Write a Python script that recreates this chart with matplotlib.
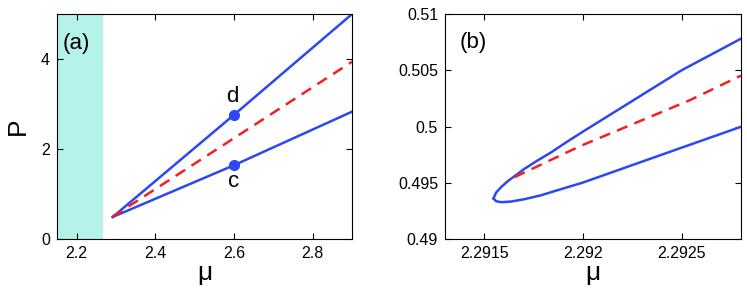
import matplotlib
matplotlib.use("Agg")
import matplotlib.pyplot as plt
from matplotlib.ticker import FuncFormatter

plt.rcParams['font.family'] = ['Liberation Sans', 'DejaVu Sans']

# panel (a): full branches
mu_up_a = [2.2916, 2.6, 2.9]
p_up_a = [0.49, 2.76, 5.0]
mu_lo_a = [2.2916, 2.6, 2.9]
p_lo_a = [0.49, 1.64, 2.83]
mu_red_a = [2.2917, 2.9]
p_red_a = [0.496, 3.94]
mu_pts = [2.6, 2.6]
p_pts = [2.76, 1.64]
pt_labels = ['d', 'c']
shade_range = [2.15, 2.267]

# panel (b): zoom near the fold
mu_up_b = [2.291546, 2.291559, 2.291585, 2.291619, 2.291653, 2.291703, 2.291771,
           2.291839, 2.291915, 2.292, 2.2925, 2.2928]
p_up_b = [0.49360, 0.49412, 0.49462, 0.49515, 0.49559, 0.49624, 0.49700,
          0.49771, 0.49860, 0.49955, 0.50500, 0.50780]
mu_lo_b = [2.291546, 2.291559, 2.291585, 2.291636, 2.291703, 2.291788, 2.29189,
           2.292, 2.2925, 2.2928]
p_lo_b = [0.49360, 0.49336, 0.49327, 0.49333, 0.49354, 0.49389, 0.49444,
          0.49502, 0.49812, 0.49997]
mu_red_b = [2.291653, 2.291983, 2.292543, 2.2928]
p_red_b = [0.4955, 0.49824, 0.50235, 0.50452]

blue = '#2d48f2'
red = '#f42020'
cyan = '#b4f2ea'

fig = plt.figure(figsize=(7.47, 2.96), dpi=100)
ax1 = fig.add_axes([0.0763, 0.1926, 0.395, 0.760])
ax2 = fig.add_axes([0.5957, 0.1926, 0.396, 0.760])

ax1.axvspan(shade_range[0], shade_range[1], color=cyan, lw=0)
ax1.plot(mu_up_a, p_up_a, color=blue, lw=1.8)
ax1.plot(mu_lo_a, p_lo_a, color=blue, lw=1.8)
ax1.plot(mu_red_a, p_red_a, color=red, lw=1.8, dashes=(4.5, 3))
ax1.plot(mu_pts, p_pts, 'o', color=blue, ms=7)
ax1.text(2.595, 3.16, pt_labels[0], fontsize=16, ha='center', va='center')
ax1.text(2.6, 1.27, pt_labels[1], fontsize=16, ha='center', va='center')
ax1.set_xlim(2.15, 2.9)
ax1.set_ylim(0, 5)
ax1.set_xticks([2.2, 2.4, 2.6, 2.8])
ax1.set_yticks([0, 2, 4])
ax1.set_xlabel('μ', fontsize=19, labelpad=0)
ax1.set_ylabel('P', fontsize=19, labelpad=8)
ax1.text(0.02, 0.87, '(a)', transform=ax1.transAxes, fontsize=16, va='center')

ax2.plot(mu_up_b, p_up_b, color=blue, lw=1.8)
ax2.plot(mu_lo_b, p_lo_b, color=blue, lw=1.8)
ax2.plot(mu_red_b, p_red_b, color=red, lw=1.8, dashes=(4.5, 3))
ax2.set_xlim(2.2913, 2.2928)
ax2.set_ylim(0.49, 0.51)
ax2.set_xticks([2.2915, 2.292, 2.2925])
ax2.set_yticks([0.49, 0.495, 0.5, 0.505, 0.51])
fmt = FuncFormatter(lambda v, pos: '%g' % round(v, 6))
ax2.xaxis.set_major_formatter(fmt)
ax2.yaxis.set_major_formatter(fmt)
ax2.set_xlabel('μ', fontsize=19, labelpad=0)
ax2.text(0.05, 0.875, '(b)', transform=ax2.transAxes, fontsize=16, va='center')

for ax in (ax1, ax2):
    ax.tick_params(direction='in', top=True, right=True, length=4, width=0.8, labelsize=11.5, pad=5)
    for s in ax.spines.values():
        s.set_linewidth(0.8)

fig.savefig('out.png', dpi=100)
